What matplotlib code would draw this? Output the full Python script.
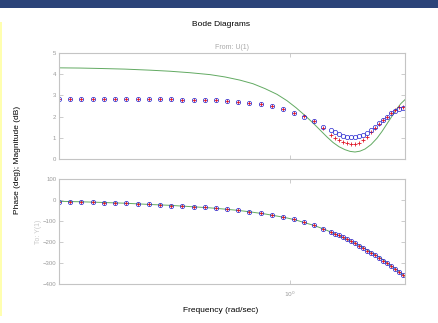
#!/usr/bin/env python3
import matplotlib
matplotlib.use("Agg")
import matplotlib.pyplot as plt
from matplotlib.patches import Rectangle

# frequencies of the measured points (rad/sec)
freq = [0.100, 0.112, 0.125, 0.140, 0.156, 0.175, 0.196, 0.219, 0.245, 0.274,
        0.306, 0.342, 0.383, 0.428, 0.478, 0.535, 0.598, 0.669, 0.748, 0.837,
        0.936, 1.044, 1.156, 1.275, 1.395, 1.511, 1.573, 1.636, 1.703, 1.773,
        1.845, 1.920, 1.998, 2.079, 2.164, 2.252, 2.344, 2.439, 2.539, 2.642,
        2.750, 2.862, 2.978, 3.099]

# blue circles
mag_o = [2.83, 2.83, 2.83, 2.83, 2.83, 2.83, 2.83, 2.82, 2.82, 2.81,
         2.81, 2.80, 2.79, 2.78, 2.76, 2.72, 2.69, 2.64, 2.59, 2.48,
         2.35, 2.19, 2.00, 1.77, 1.53, 1.37, 1.26, 1.17, 1.10, 1.06,
         1.03, 1.04, 1.07, 1.14, 1.25, 1.37, 1.53, 1.69, 1.85, 2.00,
         2.17, 2.27, 2.37, 2.42]

# red crosses
mag_p = [2.83, 2.83, 2.83, 2.83, 2.83, 2.83, 2.83, 2.82, 2.82, 2.81,
         2.81, 2.80, 2.79, 2.78, 2.76, 2.72, 2.69, 2.64, 2.59, 2.48,
         2.35, 2.19, 2.02, 1.77, 1.45, 1.14, 1.01, 0.90, 0.82, 0.74,
         0.71, 0.73, 0.77, 0.90, 1.06, 1.26, 1.45, 1.64, 1.85, 2.00,
         2.17, 2.32, 2.43, 2.47]

phase = [-7, -8, -9, -11, -12, -14, -16, -18, -21, -23,
         -26, -29, -32, -35, -39, -44, -49, -55, -63, -72,
         -81, -92, -106, -120, -136, -152, -160, -168, -177, -186,
         -196, -206, -217, -228, -240, -251, -263, -275, -288, -301,
         -314, -327, -341, -355]

# green model curve
freq_model = [0.1000, 0.1233, 0.1506, 0.1932, 0.2480, 0.3029, 0.3698, 0.4515,
              0.5243, 0.6090, 0.6935, 0.7818, 0.8813, 0.9738, 1.0653, 1.1655,
              1.2623, 1.3535, 1.4513, 1.5415, 1.6361, 1.7369, 1.8264, 1.9199,
              2.0183, 2.1211, 2.2524, 2.3911, 2.5136, 2.6421, 2.7770, 2.9194,
              3.0387, 3.1623]
mag_model = [4.30, 4.29, 4.27, 4.24, 4.19, 4.14, 4.07, 3.98,
             3.87, 3.72, 3.55, 3.32, 3.05, 2.75, 2.42, 2.05,
             1.70, 1.37, 1.04, 0.78, 0.58, 0.44, 0.36, 0.33,
             0.37, 0.47, 0.68, 0.98, 1.30, 1.66, 2.02, 2.38,
             2.62, 2.80]
phase_model = [-6, -8, -11, -15, -21, -25, -31, -37,
               -43, -50, -58, -66, -76, -85, -95, -108,
               -119, -131, -144, -157, -169, -182, -193, -205,
               -217, -231, -248, -265, -280, -298, -315, -332,
               -347, -362]

plt.rcParams['font.family'] = ['Liberation Sans', 'DejaVu Sans']

grey = '#c4c4c4'
tick_grey = '#9a9a9a'
green = '#62aa62'
red = '#e01828'
blue = '#2828d0'


def style_axes(ax):
    ax.set_xscale('log')
    ax.set_xlim(0.1, 10 ** 0.5)
    for s in ax.spines.values():
        s.set_color(grey)
        s.set_linewidth(0.8)
    ax.tick_params(which='major', direction='in', length=3, width=0.6,
                   color=grey, labelcolor=tick_grey, labelsize=4.3,
                   top=True, right=True, pad=2)
    ax.tick_params(which='minor', length=0)


fig = plt.figure(figsize=(4.38, 3.23), dpi=100)

# header bar and side strip
fig.patches.append(Rectangle((0, 1 - 8 / 323), 1, 8 / 323, transform=fig.transFigure,
                             facecolor='#2b4479', edgecolor='none'))
fig.patches.append(Rectangle((0, 7 / 323), 2 / 438, 294 / 323, transform=fig.transFigure,
                             facecolor='#ffffb0', edgecolor='none'))

ax1 = fig.add_axes([59 / 438, 1 - 159 / 323, 346 / 438, 106 / 323])
ax2 = fig.add_axes([59 / 438, 1 - 284.3 / 323, 346 / 438, 105.3 / 323])

# magnitude
ax1.plot(freq_model, mag_model, color=green, lw=0.7)
ax1.plot(freq, mag_p, '+', color=red, ms=3.4, mew=0.6, ls='none')
ax1.plot(freq, mag_o, 'o', color=blue, ms=3.1, mew=0.5, mfc='none', ls='none')
ax1.set_ylim(0, 5)
ax1.set_yticks([0, 1, 2, 3, 4, 5])
style_axes(ax1)
ax1.set_xticks([1])
ax1.set_xticklabels([])
ax1.set_title('From: U(1)', fontsize=5, color='#a8a8a8', pad=3)

# phase
ax2.plot(freq_model, phase_model, color=green, lw=0.7)
ax2.plot(freq, phase, '+', color=red, ms=3.4, mew=0.6, ls='none')
ax2.plot(freq, phase, 'o', color=blue, ms=3.1, mew=0.5, mfc='none', ls='none')
ax2.set_ylim(-400, 100)
ax2.set_yticks([-400, -300, -200, -100, 0, 100])
style_axes(ax2)
ax2.set_xticks([1])
ax2.set_xticklabels(['$10^0$'])
ax2.tick_params(axis='x', pad=4)
ax2.set_ylabel('To: Y(1)', fontsize=5, color='#c8c8c8', labelpad=0.5)

fig.text(221 / 438, 1 - 24 / 323, 'Bode Diagrams', ha='center', va='center', fontsize=6)
fig.text(221 / 438, 1 - 310 / 323, 'Frequency (rad/sec)', ha='center', va='center', fontsize=6)
fig.text(18 / 438, 1 - 160 / 323, 'Phase (deg); Magnitude (dB)', ha='center', va='center',
         rotation=90, fontsize=6)

fig.savefig('out.png', dpi=100)
